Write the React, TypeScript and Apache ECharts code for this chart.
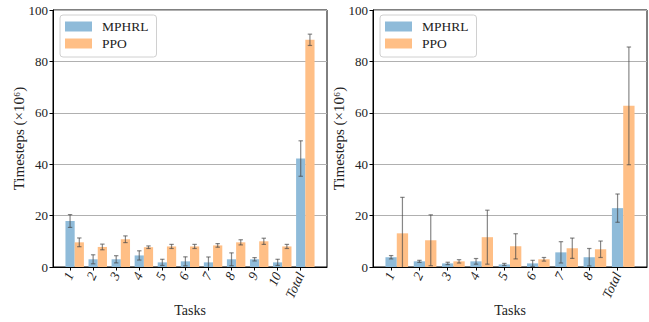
import React, { useEffect, useRef } from "react";
import * as echarts from "echarts";

const tasksA = ["1", "2", "3", "4", "5", "6", "7", "8", "9", "10", "Total"];
const mphrlA = [17.9, 3.0, 3.0, 4.5, 1.8, 2.2, 1.8, 3.0, 3.0, 1.8, 42.2];
const mphrlAErr = [2.5, 1.75, 1.4, 1.8, 1.2, 1.75, 2.1, 2.5, 0.65, 1.2, 6.9];
const ppoA = [9.6, 7.8, 10.8, 7.7, 8.0, 8.0, 8.4, 9.6, 10.0, 8.0, 88.4];
const ppoAErr = [1.7, 1.1, 1.3, 0.5, 0.8, 0.8, 0.7, 1.0, 1.2, 0.8, 2.2];

const tasksB = ["1", "2", "3", "4", "5", "6", "7", "8", "Total"];
const mphrlB = [3.8, 2.2, 1.4, 2.2, 1.0, 1.4, 5.7, 3.8, 22.9];
const mphrlBErr = [0.65, 0.4, 0.45, 1.1, 0.4, 1.2, 4.15, 3.4, 5.5];
const ppoB = [13.1, 10.4, 2.2, 11.6, 8.05, 3.0, 7.3, 6.9, 62.7];
const ppoBErr = [14, 9.9, 0.65, 10.5, 4.9, 0.7, 3.95, 3.2, 22.9];

const yTicks = [0, 20, 40, 60, 80, 100];
const seriesNames = ["MPHRL", "PPO"];

const BAR_W = 0.4;
const FONT = "Liberation Serif";
const BLUE = "#8fbbd9";
const ORANGE = "#ffbf86";
const ERR = "rgba(70,70,70,0.65)";

function makeSeries(name: string, idx: number, values: number[], errs: number[], offset: number, color: string) {
  return {
    type: "custom",
    name,
    xAxisIndex: idx,
    yAxisIndex: idx,
    itemStyle: { color },
    encode: { x: 0, y: 1 },
    data: values.map((v, i) => [i + offset, v, errs[i]]),
    renderItem: (params: any, api: any) => {
      const x = api.value(0);
      const y = api.value(1);
      const e = api.value(2);
      const p0 = api.coord([x - BAR_W / 2, y]);
      const p1 = api.coord([x + BAR_W / 2, 0]);
      const top = api.coord([x, y + e]);
      const lowVal = y - e;
      const bot = api.coord([x, Math.max(0, lowVal)]);
      const cap = 2.2;
      const children: any[] = [
        {
          type: "rect",
          shape: { x: p0[0], y: p0[1], width: p1[0] - p0[0], height: p1[1] - p0[1] },
          style: { fill: color },
        },
        {
          type: "line",
          shape: { x1: top[0], y1: top[1], x2: bot[0], y2: bot[1] },
          style: { stroke: ERR, lineWidth: 1.2 },
        },
        {
          type: "line",
          shape: { x1: top[0] - cap, y1: top[1], x2: top[0] + cap, y2: top[1] },
          style: { stroke: ERR, lineWidth: 1.2 },
        },
      ];
      if (lowVal >= 0) {
        children.push({
          type: "line",
          shape: { x1: bot[0] - cap, y1: bot[1], x2: bot[0] + cap, y2: bot[1] },
          style: { stroke: ERR, lineWidth: 1.2 },
        });
      }
      return { type: "group", children };
    },
  };
}

function xAxisFor(idx: number, labels: string[], min: number, max: number) {
  const ticks = labels.map((_, i) => i);
  return {
    type: "value",
    gridIndex: idx,
    min,
    max,
    name: "Tasks",
    nameLocation: "middle",
    nameGap: 36,
    nameMoveOverlap: false,
    nameTextStyle: { fontFamily: FONT, fontSize: 14, color: "#222" },
    axisLine: { show: true, onZero: false, lineStyle: { color: "#000", width: 1 } },
    axisTick: { show: true, customValues: ticks, length: 3.5, lineStyle: { color: "#000" } },
    axisLabel: {
      show: true,
      customValues: ticks,
      rotate: 65,
      margin: 6,
      fontFamily: FONT,
      fontStyle: "italic",
      fontSize: 13.5,
      color: "#222",
      formatter: (v: number) => labels[Math.round(v)],
    },
    splitLine: { show: false },
  };
}

function yAxisFor(idx: number) {
  return {
    type: "value",
    gridIndex: idx,
    min: yTicks[0],
    max: yTicks[yTicks.length - 1],
    interval: yTicks[1] - yTicks[0],
    name: "Timesteps (×10⁶)",
    nameLocation: "middle",
    nameGap: 27,
    nameMoveOverlap: false,
    nameTextStyle: { fontFamily: FONT, fontSize: 15, color: "#222" },
    axisLine: { show: true, onZero: false, lineStyle: { color: "#000", width: 1 } },
    axisTick: { show: true, length: 3.5, lineStyle: { color: "#000" } },
    axisLabel: { margin: 5, fontFamily: FONT, fontSize: 13, color: "#222" },
    splitLine: { show: true, lineStyle: { color: "#b0b0b0", width: 1 } },
  };
}

function legendFor(left: number) {
  return {
    orient: "vertical",
    left,
    top: 15,
    padding: [4, 8, 6, 5],
    itemGap: 2,
    itemWidth: 27,
    itemHeight: 10,
    borderColor: "#d0d0d0",
    borderWidth: 1,
    borderRadius: 3,
    backgroundColor: "#fff",
    selectedMode: false,
    textStyle: { fontFamily: FONT, fontSize: 13.5, color: "#222", padding: [0, 0, 0, 5], lineHeight: 15 },
    data: [
      { name: seriesNames[0], icon: "rect", itemStyle: { color: BLUE } },
      { name: seriesNames[1], icon: "rect", itemStyle: { color: ORANGE } },
    ],
  };
}

export default function App() {
  const ref = useRef<HTMLDivElement>(null);
  useEffect(() => {
    if (!ref.current) return;
    const chart = echarts.init(ref.current, undefined, { renderer: "svg" });
    chart.setOption({
      animation: false,
      backgroundColor: "#fff",
      grid: [
        { left: 53, top: 10, width: 274, height: 257, show: true, borderColor: "#000", borderWidth: 1, outerBoundsMode: "none", containLabel: false },
        { left: 373, top: 10, width: 274, height: 257, show: true, borderColor: "#000", borderWidth: 1, outerBoundsMode: "none", containLabel: false },
      ],
      legend: [legendFor(60), legendFor(380)],
      xAxis: [xAxisFor(0, tasksA, -0.74, 11.14), xAxisFor(1, tasksB, -0.64, 9.04)],
      yAxis: [yAxisFor(0), yAxisFor(1)],
      series: [
        makeSeries(seriesNames[0], 0, mphrlA, mphrlAErr, 0, BLUE),
        makeSeries(seriesNames[1], 0, ppoA, ppoAErr, BAR_W, ORANGE),
        makeSeries(seriesNames[0], 1, mphrlB, mphrlBErr, 0, BLUE),
        makeSeries(seriesNames[1], 1, ppoB, ppoBErr, BAR_W, ORANGE),
      ],
    });
    return () => chart.dispose();
  }, []);
  return <div ref={ref} style={{ position: "absolute", left: 0, top: 0, width: 649, height: 322 }} />;
}
